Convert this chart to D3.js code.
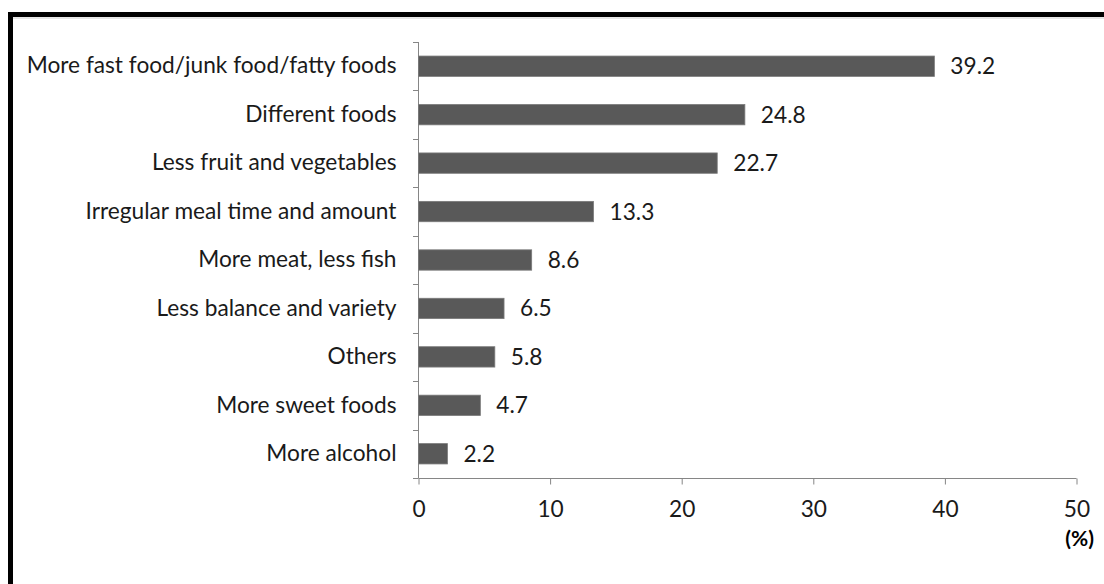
<!DOCTYPE html>
<html><head><meta charset="utf-8">
<script src="https://cdn.jsdelivr.net/npm/d3@7/dist/d3.min.js"></script>
<style>html,body{margin:0;padding:0;background:#fff;}svg{display:block;}</style>
</head><body>
<svg id="c" width="1104" height="584"></svg>
<script>
const categories = ["More fast food/junk food/fatty foods","Different foods","Less fruit and vegetables","Irregular meal time and amount","More meat, less fish","Less balance and variety","Others","More sweet foods","More alcohol"];
const values = [39.2,24.8,22.7,13.3,8.6,6.5,5.8,4.7,2.2];
const xTicks = [0,10,20,30,40,50];
const unitLabel = "(%)";

const svg = d3.select("#c");
const font = "Lato, 'Open Sans', sans-serif";
const fs = 22.7;
// frame
svg.append("rect").attr("x",10.5).attr("y",14.5).attr("width",1200).attr("height",700)
  .attr("fill","none").attr("stroke","#000").attr("stroke-width",5);
svg.append("line").attr("x1",13).attr("x2",1104).attr("y1",18).attr("y2",18).attr("stroke","#ccc").attr("stroke-width",1);

const x = d3.scaleLinear().domain([0,50]).range([418.5,1076.5]);
const y = d3.scaleBand().domain(categories).range([42,478]).paddingInner(0.58).paddingOuter(0.29);

const g = svg.append("g");
// x axis
const xa = g.append("g").attr("transform","translate(0,478.5)")
  .call(d3.axisBottom(x).tickValues(xTicks).tickSize(6));
xa.select(".domain").attr("stroke","#868686").attr("d","M418.5,0H1076.5");
xa.selectAll(".tick line").attr("stroke","#868686");
xa.selectAll(".tick text").attr("font-family",font).attr("font-size",fs).attr("fill","#1a1a1a")
  .attr("y",38.5).attr("dy",0);

// y axis
const ya = g.append("g").attr("transform","translate(418.5,0)")
  .call(d3.axisLeft(y).tickSize(0).tickPadding(22));
ya.select(".domain").attr("stroke","#868686").attr("d","M0,42V478");
ya.selectAll(".tick text").attr("font-family",font).attr("font-size",fs).attr("fill","#1a1a1a");
// category boundary ticks
const bounds = d3.range(categories.length+1).map(i=>42+i*(436/categories.length));
g.selectAll(".bt").data(bounds).join("line").attr("x1",413).attr("x2",418.5)
  .attr("y1",d=>Math.round(d)+0.5).attr("y2",d=>Math.round(d)+0.5).attr("stroke","#868686");

// bars
g.selectAll(".bar").data(values).join("rect")
  .attr("x",x(0)).attr("y",(d,i)=>y(categories[i]))
  .attr("width",d=>x(d)-x(0)).attr("height",y.bandwidth())
  .attr("fill","#595959").attr("stroke","#7a7a7a").attr("stroke-width",0.8);
g.selectAll(".vl").data(values).join("text")
  .attr("x",d=>x(d)+16).attr("y",(d,i)=>y(categories[i])+y.bandwidth()/2)
  .attr("dy","0.35em").attr("font-family",font).attr("font-size",fs).attr("fill","#1a1a1a")
  .text(d=>d.toFixed(1));

svg.append("text").attr("x",1094).attr("y",546).attr("text-anchor","end")
  .attr("font-family",font).attr("font-size",21).attr("font-weight","bold").attr("fill","#000").text(unitLabel);
</script>
</body></html>
